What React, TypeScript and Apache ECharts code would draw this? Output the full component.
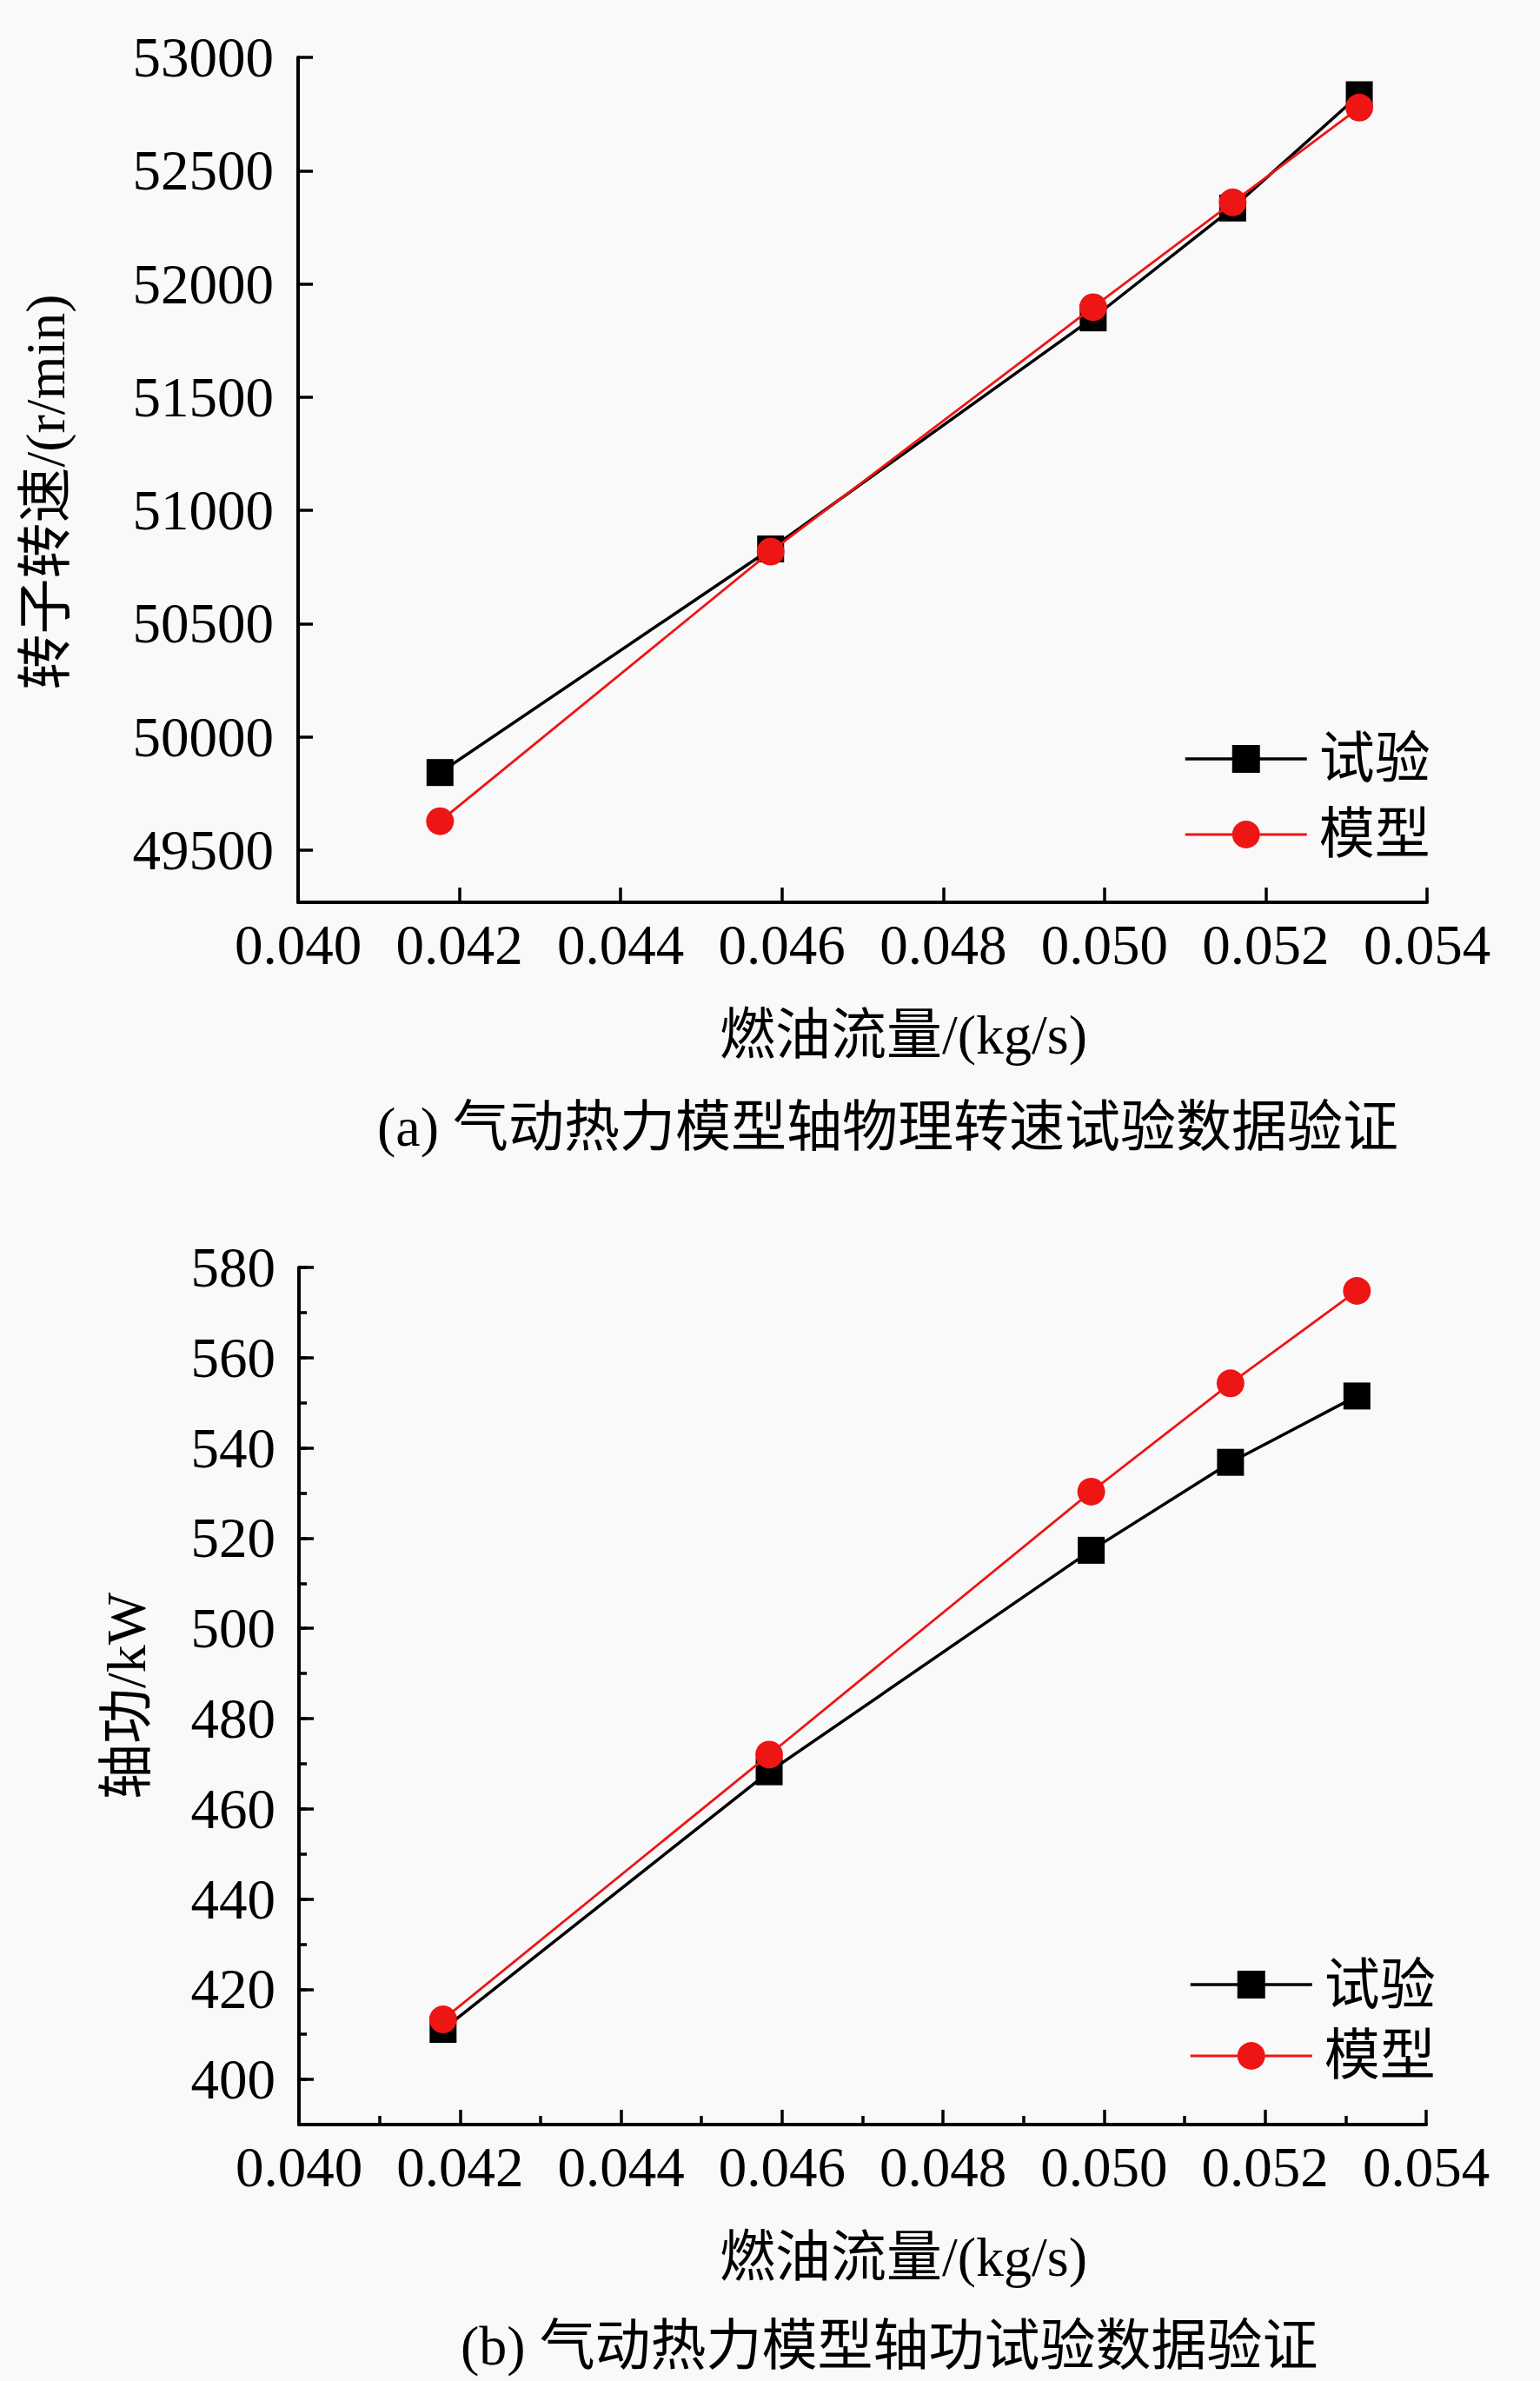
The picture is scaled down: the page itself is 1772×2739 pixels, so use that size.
import React, { useEffect, useRef } from "react";
import * as echarts from "echarts";

// ---------- data ----------
const seriesNames = ["试验", "模型"];
const fuelFlowA = [0.04176, 0.04586, 0.04986, 0.05159, 0.05316];
const speedTest = [49843, 50830, 51850, 52335, 52835];
const speedModel = [49628, 50818, 51897, 52360, 52778];

const fuelFlowB = [0.04179, 0.04584, 0.04984, 0.05157, 0.05314];
const powerTest = [411.1, 468.2, 517.3, 536.8, 551.5];
const powerModel = [413.3, 472.0, 530.3, 554.3, 574.8];

const xRange = [0.04, 0.054];
const xStep = 0.002;
const speedRange = [49270, 53000];
const speedStep = 500;
const powerRange = [390, 580];
const powerStep = 20;
const powerMinorStep = 10;

const xAxisName = "燃油流量/(kg/s)";
const speedAxisName = "转子转速/(r/min)";
const powerAxisName = "轴功/kW";
const captionA = "(a) 气动热力模型轴物理转速试验数据验证";
const captionB = "(b) 气动热力模型轴功试验数据验证";

const FONT = "Liberation Serif, Noto Sans CJK SC, serif";
const BLACK = "#000000";
const RED = "#ee1515";
const TEST_W = 3.5;
const MODEL_W = 2.8;

function zip(xs: number[], ys: number[]) {
  return xs.map((x, i) => [x, ys[i]]);
}

export default function App() {
  const ref = useRef<HTMLDivElement>(null);

  useEffect(() => {
    if (!ref.current) return;
    const chart = echarts.init(ref.current, null, { renderer: "svg" });

    const axisLine = { show: true, lineStyle: { color: BLACK, width: 4 } };
    const labelStyle = { color: BLACK, fontSize: 65, fontFamily: FONT };
    const nameStyle = { color: BLACK, fontSize: 64, fontFamily: FONT };

    const xAxisCommon = (gridIndex: number, minor: boolean) => ({
      type: "value",
      gridIndex,
      min: xRange[0],
      max: xRange[1],
      interval: xStep,
      name: xAxisName,
      nameLocation: "middle",
      nameGap: 120,
      nameTextStyle: { ...nameStyle, padding: [0, 0, 0, 94] },
      axisLine,
      axisTick: { show: true, inside: true, length: 17, lineStyle: { color: BLACK, width: 3.5 } },
      minorTick: { show: minor, splitNumber: 2, length: 10, lineStyle: { color: BLACK, width: 3.5 } },
      axisLabel: {
        ...labelStyle,
        margin: 16,
        formatter: (v: number) => v.toFixed(3),
      },
      splitLine: { show: false },
      minorSplitLine: { show: false },
    });

    const lineSeries = (
      name: string,
      data: number[][],
      xi: number,
      yi: number,
      isModel: boolean
    ) => ({
      name,
      type: "line",
      xAxisIndex: xi,
      yAxisIndex: yi,
      data,
      symbol: isModel ? "circle" : "rect",
      symbolSize: isModel ? 32 : 31,
      lineStyle: { color: isModel ? RED : BLACK, width: isModel ? MODEL_W : TEST_W },
      itemStyle: { color: isModel ? RED : BLACK },
      z: isModel ? 3 : 2,
    });

    const legendCommon = {
      orient: "vertical",
      itemWidth: 140,
      itemHeight: 40,
      textStyle: { color: BLACK, fontSize: 64, fontFamily: FONT, padding: [0, 0, 0, 9] },
      data: [
        { name: seriesNames[0], lineStyle: { color: BLACK, width: TEST_W } },
        { name: seriesNames[1], lineStyle: { color: RED, width: MODEL_W } },
      ],
      selectedMode: false,
    };

    const intLabel = (v: number) => String(Math.round(v));

    chart.setOption({
      animation: false,
      backgroundColor: "#f9f9f9",
      textStyle: { fontFamily: FONT, color: BLACK },
      title: [
        {
          text: captionA,
          left: 429,
          top: 1258,
          textStyle: { color: BLACK, fontSize: 64, lineHeight: 66, fontWeight: "normal", fontFamily: FONT },
        },
        {
          text: captionB,
          left: 525,
          top: 2660,
          textStyle: { color: BLACK, fontSize: 64, lineHeight: 66, fontWeight: "normal", fontFamily: FONT },
        },
      ],
      legend: [
        { ...legendCommon, left: 1357, top: 836, itemGap: 23 },
        { ...legendCommon, left: 1363, top: 2246, itemGap: 18 },
      ],
      grid: [
        { left: 343, top: 66, width: 1299, height: 972, containLabel: false },
        { left: 344, top: 1458, width: 1297, height: 986, containLabel: false },
      ],
      xAxis: [xAxisCommon(0, false), xAxisCommon(1, true)],
      yAxis: [
        {
          type: "value",
          gridIndex: 0,
          position: "left",
          min: speedRange[0],
          max: speedRange[1],
          splitNumber: 7,
          minInterval: speedStep,
          maxInterval: speedStep,
          name: speedAxisName,
          nameLocation: "middle",
          nameGap: 259,
          nameTextStyle: { ...nameStyle, padding: [0, 28, 0, 0] },
          axisLine,
          axisTick: { show: true, inside: true, length: 17, lineStyle: { color: BLACK, width: 3.5 } },
          axisLabel: { ...labelStyle, margin: 28, showMinLabel: false, formatter: intLabel },
          splitLine: { show: false },
        },
        {
          type: "value",
          gridIndex: 1,
          position: "left",
          min: powerRange[0],
          max: powerRange[1],
          splitNumber: 10,
          minInterval: powerStep,
          maxInterval: powerStep,
          name: powerAxisName,
          nameLocation: "middle",
          nameGap: 167,
          nameTextStyle: nameStyle,
          axisLine,
          axisTick: { show: true, inside: true, length: 17, lineStyle: { color: BLACK, width: 3.5 } },
          axisLabel: { ...labelStyle, margin: 27, showMinLabel: false, formatter: intLabel },
          splitLine: { show: false },
        },
        {
          type: "value",
          gridIndex: 1,
          position: "left",
          offset: 0,
          min: powerRange[0],
          max: powerRange[1],
          interval: powerMinorStep,
          axisLine: { show: false },
          axisTick: { show: true, inside: true, length: 9, lineStyle: { color: BLACK, width: 3.5 } },
          axisLabel: { show: false },
          splitLine: { show: false },
        },
      ],
      series: [
        lineSeries(seriesNames[0], zip(fuelFlowA, speedTest), 0, 0, false),
        lineSeries(seriesNames[1], zip(fuelFlowA, speedModel), 0, 0, true),
        lineSeries(seriesNames[0], zip(fuelFlowB, powerTest), 1, 1, false),
        lineSeries(seriesNames[1], zip(fuelFlowB, powerModel), 1, 1, true),
      ],
    });

    return () => chart.dispose();
  }, []);

  return (
    <div
      ref={ref}
      style={{ position: "absolute", left: 0, top: 0, width: 1772, height: 2739 }}
    />
  );
}
